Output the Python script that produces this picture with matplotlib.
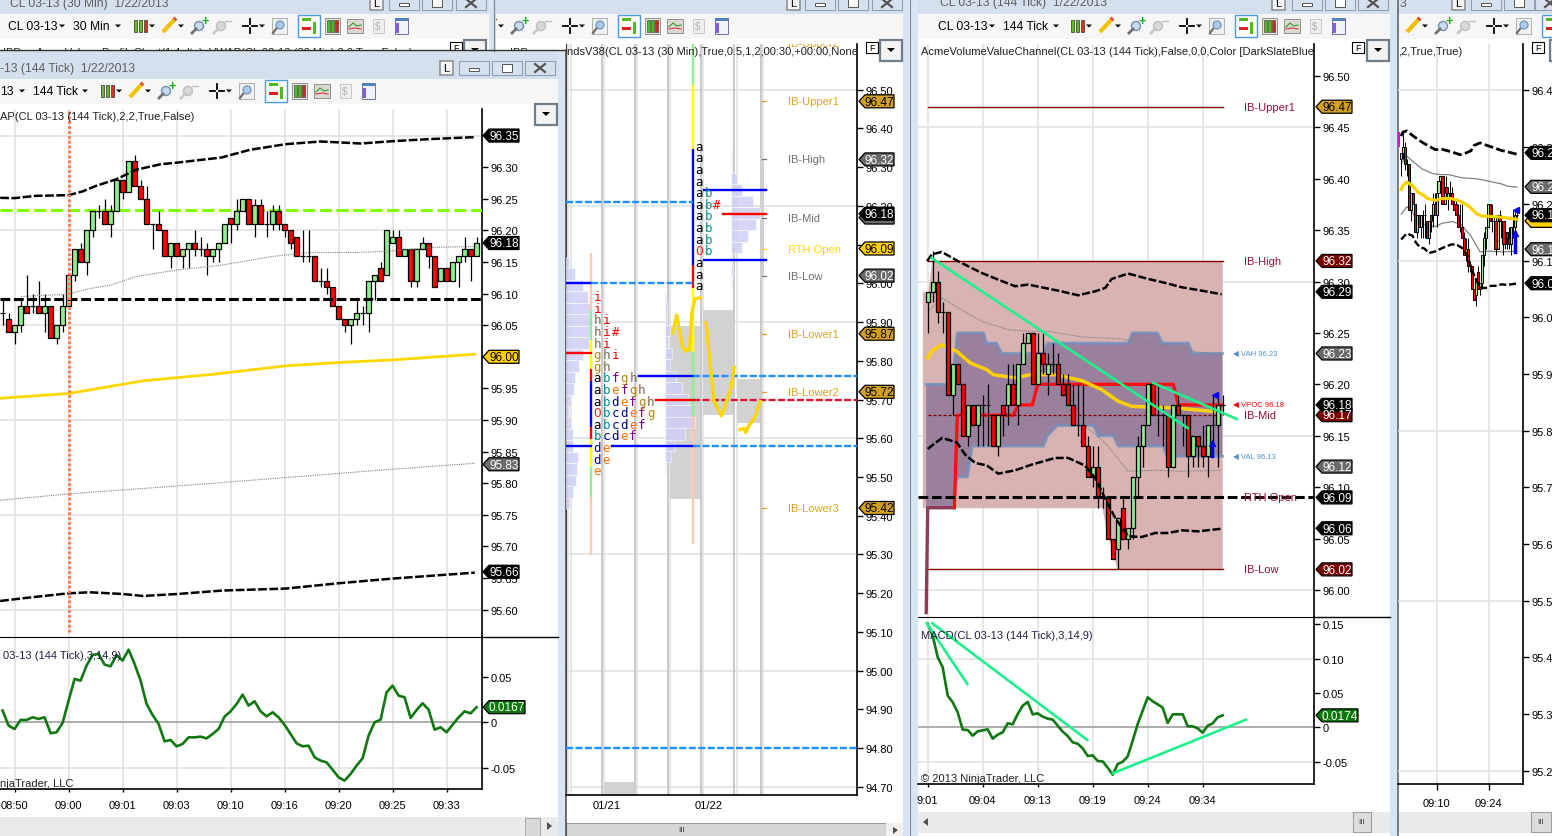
import numpy as np
import matplotlib
matplotlib.use('Agg')
import matplotlib.pyplot as plt
from matplotlib.patches import Polygon, Rectangle, Circle

plt.rcParams['font.family'] = ['Liberation Sans', 'DejaVu Sans']
plt.rcParams['font.size'] = 8

W, H = 1552, 837

# ---- left chart (CL 03-13, 144 tick), bars numbered from the 09:00 bar
a_open = [96.07,96.06,96.04,96.05,96.08,96.08,96.08,96.07,96.08,96.03,96.05,96.08,96.13,96.17,96.15,96.20,96.23,96.23,96.21,96.23,
          96.28,96.26,96.31,96.27,96.25,96.21,96.21,96.20,96.16,96.18,96.16,96.17,96.18,96.17,96.17,96.16,96.17,96.18,96.22,96.21,
          96.23,96.25,96.21,96.24,96.21,96.21,96.23,96.21,96.20,96.19,96.16,96.16,96.16,96.12,96.12,96.11,96.08,96.06,96.05,96.06,
          96.07,96.07,96.12,96.14,96.13,96.18,96.19,96.16,96.17,96.12,96.17,96.18,96.16,96.12,96.14,96.12,96.15,96.16,96.17,96.16]
a_close = [96.07,96.04,96.05,96.08,96.07,96.08,96.07,96.08,96.03,96.05,96.08,96.13,96.17,96.15,96.20,96.23,96.23,96.21,96.23,96.28,
           96.26,96.31,96.27,96.25,96.21,96.21,96.20,96.16,96.18,96.16,96.17,96.18,96.17,96.17,96.16,96.17,96.18,96.21,96.21,96.23,
           96.25,96.21,96.24,96.21,96.21,96.23,96.21,96.20,96.18,96.16,96.16,96.16,96.12,96.12,96.11,96.08,96.06,96.05,96.06,96.07,
           96.07,96.12,96.13,96.12,96.20,96.19,96.16,96.17,96.12,96.17,96.18,96.16,96.11,96.14,96.12,96.15,96.16,96.17,96.16,96.18]
a_high = [96.09,96.07,96.05,96.09,96.13,96.10,96.12,96.10,96.08,96.05,96.10,96.13,96.17,96.18,96.20,96.23,96.24,96.25,96.24,96.28,
          96.28,96.31,96.32,96.28,96.27,96.21,96.23,96.20,96.18,96.18,96.17,96.18,96.20,96.19,96.18,96.17,96.18,96.21,96.22,96.25,
          96.25,96.25,96.25,96.25,96.23,96.24,96.24,96.21,96.20,96.19,96.20,96.20,96.16,96.14,96.14,96.11,96.08,96.06,96.06,96.09,
          96.08,96.12,96.13,96.15,96.20,96.20,96.20,96.17,96.17,96.17,96.19,96.18,96.16,96.14,96.14,96.15,96.16,96.19,96.17,96.19]
a_low = [96.05,96.04,96.02,96.04,96.07,96.07,96.07,96.04,96.03,96.02,96.04,96.08,96.12,96.15,96.13,96.19,96.22,96.21,96.19,96.23,
         96.25,96.26,96.27,96.25,96.21,96.17,96.20,96.16,96.14,96.16,96.14,96.14,96.16,96.16,96.13,96.15,96.15,96.18,96.18,96.20,
         96.23,96.21,96.19,96.21,96.19,96.20,96.20,96.19,96.17,96.16,96.15,96.15,96.12,96.11,96.10,96.08,96.06,96.04,96.02,96.05,
         96.05,96.04,96.09,96.12,96.13,96.18,96.16,96.16,96.11,96.11,96.17,96.14,96.11,96.12,96.12,96.12,96.11,96.15,96.12,96.16]
a_first_bar = -11

a_macd = [.0130,-.0037,-.0074,.0026,.0026,.0055,.0037,.0055,-.0121,-.0110,-.0007,.0239,.0478,.0460,.0626,.0743,.0754,.0637,.0618,.0743,
          .0681,.0802,.0644,.0460,.0202,.0081,-.0018,-.0210,-.0195,-.0265,-.0239,-.0166,-.0166,-.0158,-.0177,-.0129,-.0074,.0063,.0121,.0202,
          .0305,.0184,.0232,.0121,.0066,.0110,.0055,-.0029,-.0129,-.0232,-.0265,-.0258,-.0386,-.0423,-.0442,-.0523,-.0607,-.0644,-.0570,-.0478,
          -.0397,-.0147,0,.0029,.0331,.0405,.0294,.0276,.0048,.0136,.0210,.0140,-.0081,-.0055,-.0110,-.0026,.0055,.0121,.0099,.0167]

a_upper_x = [-11.4,-9,-5.5,0,2.3,4.6,8,11.2,15.4,18.3,25.5,30.2,36.2,42.1,48.7,54,60,67.7]
a_upper_y = [96.2515,96.251,96.2546,96.2557,96.2615,96.2705,96.281,96.2958,96.3047,96.3074,96.3153,96.3274,96.3364,96.3406,96.3374,96.3411,96.3443,96.3475]
a_vwap_x = [-7.9,-3.7,-.1,3.5,7,11.2,18.3,25.5,33.8,40.4,48.1,54,60.6,67.7]
a_vwap_y = [96.0954,96.0975,96.099,96.108,96.1133,96.127,96.1376,96.145,96.1586,96.165,96.165,96.1676,96.173,96.1745]
a_gold_x = [-11.4,0,12.4,24.3,36.2,45,54,67.7]
a_gold_y = [95.9345,95.9419,95.962,95.9725,95.9857,95.991,95.9951,96.0041]
a_thin_x = [-11.4,0,18.3,36.2,54,67.7]
a_thin_y = [95.7731,95.7831,95.7958,95.809,95.8222,95.8316]
a_lower_x = [-11.4,-9,-5.5,0,3.5,8.9,12.4,18.3,25.5,36.2,45,54,67.7]
a_lower_y = [95.6138,95.6165,95.6203,95.6259,95.6275,95.6249,95.6217,95.6249,95.6302,95.6334,95.6418,95.6492,95.6586]
a_time_pos = [-9,0,9,18,27,36,45,54,63]
a_time_lab = ['08:50','09:00','09:01','09:03','09:10','09:16','09:20','09:25','09:33']

# ---- middle chart (market profile on 30 min)
b_dark_x = [-1.08,0,1,2,3,4,4.82]
b_light_x = [-1.02,-.92,.08,1.08,2.07,3.08,4.09,4.9]
b_block_x0 = [2.07,3.08,4.09,.08]
b_block_x1 = [2.98,3.99,4.80,.98]
b_block_hi = [95.89,95.932,95.753,94.712]
b_block_lo = [95.443,95.66,95.64,94.66]

tpo1_lo = 95.417
tpo1_w = [4,6.7,10,10.7,12,6.7,6.7,5.3,2.7,5.3,8,9,13,17.3,22.7,24.7,24.7,24.7,22,16.7,9,3.3]
tpo2_lo = 95.508
tpo2_w = [1,6,10,20,30,27.7,23,17,11,5,7,3.7,5,2.3,2.3,1]
tpo3_lo = 95.989
tpo3_w = [1,2.3,1.7,11,17,25,29.7,22.7,11,6.7,1.7,1.7]

strip1_edges = [96.078,95.929,95.854,95.779,95.749,95.628,95.598,95.525,95.449,95.298]
strip1_cols = ['#FFC8B0','#90EE90','#FFFF00','#FF0000','#0000FF','#FF0000','#FFFF00','#90EE90','#FFC8B0']
strip2_edges = [96.618,96.512,96.347,96.048,95.989,95.823,95.658,95.327]
strip2_cols = ['#90EE90','#FFFF00','#0000FF','#FF0000','#FFFF00','#90EE90','#FFC8B0']

letters1 = ['e','de','de','bcdef','abcdef','Obcdefg','abdefgh','abefgh','abfgh','gh','ghi','hi','hi#','hi','i','i']
letters1_lo = 95.516
letters2 = ['a','a','a','Ob','ab','ab','ab','ab#','ab','a','a','a','a']
letters2_lo = 95.994
letter_cols = {'a':'#000000','b':'#008B8B','c':'#00008B','d':'#00008B','e':'#FF7000','f':'#800080','g':'#B8860B','h':'#7A6A50','i':'#FF0000','O':'#FF2020','#':'#FF0000'}

b_gold1_x = [2.15,2.27,2.45,2.55,2.66,2.73,2.83,2.98]
b_gold1_y = [95.872,95.918,95.835,95.825,95.83,95.925,95.96,95.963]
b_gold2_x = [3.16,3.28,3.40,3.63,3.91,4.01]
b_gold2_y = [95.899,95.796,95.697,95.658,95.727,95.783]
b_gold3_x = [4.19,4.31,4.36,4.47,4.62,4.80]
b_gold3_y = [95.622,95.626,95.615,95.634,95.651,95.695]

b_ib_names = ['IB-Upper2','IB-Upper1','IB-High','IB-Mid','RTH Open','IB-Low','IB-Lower1','IB-Lower2','IB-Lower3']
b_ib_price = [96.62,96.47,96.32,96.17,96.09,96.02,95.87,95.72,95.42]
b_ib_cols = ['#DAA520','#DAA520','#707070','#707070','#FFD700','#707070','#DAA520','#DAA520','#DAA520']

# ---- third chart, also used by the narrow one on the right
c_open = [96.28,96.29,96.30,96.27,96.27,96.19,96.22,96.20,96.15,96.18,96.16,96.18,96.18,96.17,96.14,96.18,96.18,96.20,96.18,96.22,
          96.24,96.25,96.20,96.23,96.21,96.22,96.22,96.20,96.20,96.18,96.16,96.16,96.14,96.11,96.12,96.09,96.09,96.05,96.04,96.08,
          96.05,96.06,96.11,96.14,96.16,96.20,96.17,96.17,96.17,96.12,96.18,96.17,96.17,96.13,96.15,96.14,96.13,96.16,96.16,96.18]
c_close = [96.29,96.30,96.27,96.27,96.19,96.22,96.20,96.15,96.18,96.16,96.18,96.18,96.18,96.14,96.17,96.17,96.20,96.18,96.22,96.24,
           96.25,96.20,96.23,96.22,96.22,96.22,96.20,96.19,96.18,96.16,96.16,96.14,96.11,96.12,96.09,96.09,96.05,96.03,96.07,96.05,
           96.06,96.11,96.14,96.16,96.20,96.17,96.17,96.17,96.12,96.18,96.17,96.17,96.13,96.15,96.14,96.13,96.16,96.16,96.18,96.18]
c_high = [96.29,96.33,96.31,96.28,96.27,96.22,96.22,96.20,96.18,96.18,96.18,96.19,96.20,96.17,96.17,96.18,96.22,96.22,96.22,96.25,
          96.25,96.25,96.25,96.25,96.23,96.24,96.23,96.21,96.21,96.20,96.20,96.20,96.15,96.14,96.14,96.10,96.09,96.05,96.07,96.09,
          96.06,96.11,96.15,96.16,96.20,96.20,96.20,96.18,96.17,96.18,96.19,96.17,96.17,96.15,96.15,96.16,96.16,96.19,96.19,96.19]
c_low = [96.25,96.28,96.26,96.25,96.19,96.17,96.20,96.15,96.14,96.16,96.14,96.14,96.14,96.14,96.13,96.15,96.16,96.18,96.16,96.22,
         96.24,96.20,96.20,96.21,96.19,96.21,96.20,96.19,96.18,96.16,96.15,96.14,96.11,96.10,96.08,96.08,96.05,96.03,96.02,96.05,
         96.04,96.05,96.09,96.12,96.16,96.17,96.15,96.14,96.11,96.12,96.17,96.14,96.11,96.12,96.12,96.12,96.11,96.14,96.12,96.17]
c_macd = [.1504,.1334,.1019,.0873,.0461,.0364,.0218,-.0034,-.0039,-.0121,-.0058,-.0044,-.0029,-.0165,-.0107,-.0073,.0058,.0044,.0194,.0315,
          .0369,.0189,.0204,.0155,.0126,.0112,.0024,-.0063,-.0126,-.0218,-.0238,-.0306,-.0417,-.0407,-.0490,-.0495,-.0587,-.0689,-.0534,-.0500,
          -.0422,-.0194,.0049,.0243,.0437,.0378,.0335,.0286,.0063,.0189,.0189,.0189,.0015,.0015,-.0015,-.0078,.0024,.0058,.0146,.0174]
c_upper_x = [-.13,.8,2.8,6.1,10.8,14.1,17.5,20.1,26.1,30.1,33.5,35.5,36.8,40.1,44.1,47.5,50.8,54.8,58.8]
c_upper_y = [96.3197,96.3262,96.3288,96.3197,96.3083,96.3018,96.2954,96.297,96.2911,96.2866,96.2905,96.2937,96.3025,96.3077,96.3025,96.2986,96.2944,96.2911,96.2876]
c_lower_x = [0,1.5,2.9,5.8,7.5,9.5,11.8,14.1,17.5,20.8,25.5,28.1,31.5,33.5,35.1,37.5,40.1,42.8,45.5,48.1,50.8,54.1,58.8]
c_lower_y = [96.1371,96.143,96.1478,96.1436,96.1316,96.1235,96.1212,96.1131,96.1164,96.1219,96.1284,96.1284,96.1209,96.1089,96.0927,96.07,96.0522,96.0515,96.0554,96.0554,96.058,96.057,96.0596]
c_thin1_x = [0,2.9,6.1,10.8,16.1,20.1,24.1,30.8,38.8,44.1,50.8,54.1,58.8]
c_thin1_y = [96.271,96.284,96.2743,96.2613,96.2532,96.2516,96.2516,96.2461,96.2441,96.2402,96.2354,96.2312,96.2295]
c_thin2_x = [0,2.9,5.8,8.1,12.8,17.5,20.8,26.1,30.8,35.5,40.1,45.5,50.8,58.8]
c_thin2_y = [96.1819,96.1948,96.1851,96.1689,96.1624,96.1601,96.1657,96.1689,96.1624,96.143,96.1154,96.1164,96.1154,96.1164]
c_gold_x = [0,.8,2.8,5.8,8.5,11.8,13.1,17.5,20.5,25.5,30.8,34.8,38.1,40.8,49.5,54.8,58.8]
c_gold_y = [96.2256,96.2321,96.2386,96.2321,96.2208,96.2143,96.2094,96.2062,96.2094,96.2094,96.2036,96.1948,96.1835,96.1786,96.177,96.1747,96.1728]

ib_x = [-1.07,0,.8,34.8,36.1,37.9,58.9]
ib_hi = [96.29,96.29,96.32,96.32,96.32,96.32,96.32]
ib_lo = [96.08,96.08,96.08,96.08,96.05,96.02,96.02]
va_up_x = [-.3,0,4.8,5.93,11.13,11.8,13.8,14.8,23.13,23.93,40.13,40.93,45.93,46.93,52.13,52.93,58.93]
va_up_y = [96.20,96.20,96.20,96.25,96.25,96.24,96.24,96.23,96.23,96.24,96.24,96.25,96.25,96.24,96.24,96.23,96.23]
va_lo_x = [-.3,0,4.8,5.93,7.93,8.93,23.13,23.93,25.93,33.15,34.13,37.13,38.13,47.13,47.8,58.93]
va_lo_y = [95.978,96.08,96.08,96.11,96.11,96.14,96.14,96.15,96.16,96.16,96.15,96.15,96.14,96.14,96.13,96.13]
vpoc_x = [5.33,5.93,17.13,18.13,20.93,22,49.13,50.13,58.93]
vpoc_y = [96.08,96.17,96.17,96.18,96.18,96.20,96.20,96.18,96.18]
c_ib_names = ['IB-Upper1','IB-High','IB-Mid','RTH Open','IB-Low']
c_ib_price = [96.47,96.32,96.17,96.09,96.02]
c_time_pos = [0,11,22,33,44,55]
c_time_lab = ['9:01','09:04','09:13','09:19','09:24','09:34']


def panel(x0, y_top, x1, y_bot, xlim, ylim):
    ax = fig.add_axes([x0/W, 1-y_bot/H, (x1-x0)/W, (y_bot-y_top)/H], zorder=5)
    ax.set_xlim(xlim)
    ax.set_ylim(ylim)
    ax.patch.set_alpha(0)
    ax.yaxis.tick_right()
    for s in ['top', 'left']:
        ax.spines[s].set_visible(False)
    for s in ['right', 'bottom']:
        ax.spines[s].set_linewidth(1.2)
    ax.tick_params(axis='y', length=4.5, width=1, pad=1.5, labelsize=8)
    ax.tick_params(axis='x', length=2, width=1, pad=6, labelsize=8)
    ax.set_axisbelow(True)
    ax.set_xticks([])
    return ax


def price_ticks(ax, ticks, grids, fmt='%.2f'):
    ax.set_yticks(ticks)
    ax.set_yticklabels([fmt % t for t in ticks])
    for g in grids:
        ax.axhline(g, color='#E2E2E2', lw=1.2, zorder=1)


def time_grid(ax, pos):
    for p in pos:
        ax.axvline(p, color='#E2E2E2', lw=1.2, zorder=1)


def candles(ax, x, o, c, h, l, width, lw=.9):
    x, o, c, h, l = map(np.array, (x, o, c, h, l))
    ax.vlines(x, l, h, color='k', lw=lw, zorder=6)
    up = c >= o
    ax.bar(x[up], (c-o)[up], bottom=o[up], width=width, color='#90EE90', edgecolor='k', lw=lw, zorder=7)
    ax.bar(x[~up], (o-c)[~up], bottom=c[~up], width=width, color='#FF0000', edgecolor='k', lw=lw, zorder=7)


def tag(ax, price, label, face, txt, x0, x1):
    y = H - ax.transData.transform((0, price))[1]
    pts = [(x0, y), (x0+6, y-6.5), (x1, y-6.5), (x1, y+6.5), (x0+6, y+6.5)]
    over.add_patch(Polygon(pts, closed=True, fc=face, ec='k', lw=.9, zorder=10))
    if label:
        over.text(x0+6.5+(x1-x0-7)/2, y+.3, label, color=txt, ha='center', va='center', fontsize=8.5, zorder=11, clip_on=True)


def button(x, y, kind):
    if kind == 'L':
        bg.add_patch(Rectangle((x-6, y-7), 13, 14, fc='#F4F4F4', ec='#8A8A8A', lw=1.1))
        bg.text(x, y, 'L', ha='center', va='center', fontsize=8)
    else:
        bg.add_patch(Rectangle((x-15, y-7), 30, 14, fc='#D5E1EE', ec='#8FA0B4', lw=.8))
        if kind == 'min':
            bg.add_patch(Rectangle((x-5, y), 10, 3, fc='w', ec='#555555', lw=.7))
        elif kind == 'max':
            bg.add_patch(Rectangle((x-5, y-4), 10, 8, fc='w', ec='#555555', lw=.7))
        else:
            bg.plot([x-5, x+5], [y-4, y+4], color='#555555', lw=1.6)
            bg.plot([x-5, x+5], [y+4, y-4], color='#555555', lw=1.6)


def arrow_down(x, y):
    bg.add_patch(Polygon([(x-3, y-1.5), (x+3, y-1.5), (x, y+1.5)], fc='k', ec='none'))


def icons(x0, y):
    # toolbar pictures, same spacing in every window
    for dx, col in [(-5, '#66BB22'), (0, '#66BB22'), (5, '#E03020')]:
        bg.add_patch(Rectangle((x0+dx-1.5, y-6), 3, 12, fc=col, ec='#333333', lw=.5))
    arrow_down(x0+12, y)
    xp = x0+29
    bg.plot([xp-6, xp+5], [y+6, y-6], color='#F2C200', lw=3, solid_capstyle='butt')
    bg.plot([xp+5, xp+7], [y-6, y-8], color='#E05030', lw=3, solid_capstyle='butt')
    arrow_down(xp+12, y)
    xz = x0+59
    bg.add_patch(Circle((xz, y), 4.5, fc='#C8DCF0', ec='#7090B0', lw=1))
    bg.plot([xz-3, xz-7], [y+3, y+7], color='#707070', lw=2)
    bg.text(xz+6, y-5, '+', color='#10B010', fontsize=9, fontweight='bold', ha='center', va='center')
    xo = x0+81
    bg.add_patch(Circle((xo, y), 4.5, fc='#D8D8D8', ec='#C0C0C0', lw=1))
    bg.plot([xo-3, xo-7], [y+3, y+7], color='#C8C8C8', lw=2)
    bg.plot([xo+4, xo+10], [y-5, y-5], color='#C0C0C0', lw=1)
    xc = x0+110
    bg.plot([xc-7, xc-2], [y, y], 'k', lw=1.3)
    bg.plot([xc+2, xc+7], [y, y], 'k', lw=1.3)
    bg.plot([xc, xc], [y-7, y-2], 'k', lw=1.3)
    bg.plot([xc, xc], [y+2, y+7], 'k', lw=1.3)
    arrow_down(xc+12, y)
    xm = x0+139
    bg.add_patch(Rectangle((xm-7, y-8), 15, 16, fc='#F0F0F0', ec='#B0B0B0', lw=.7))
    bg.add_patch(Circle((xm+1, y-1), 4, fc='#A8CCEE', ec='#7090B0', lw=.8))
    bg.plot([xm-3, xm-6], [y+3, y+7], color='#707070', lw=1.6)
    xs = x0+169
    bg.add_patch(Rectangle((xs-11, y-11), 22, 22, fc='#FBFBFB', ec='#4A9BE8', lw=1))
    bg.add_patch(Rectangle((xs-7, y-8), 9, 3, fc='#50B820', ec='none'))
    bg.add_patch(Rectangle((xs-7, y+1), 9, 3, fc='#E02020', ec='none'))
    bg.add_patch(Rectangle((xs+4, y-4), 3, 12, fc='#50B820', ec='none'))
    x2 = x0+192
    bg.add_patch(Rectangle((x2-7, y-8), 15, 16, fc='#E8E8E8', ec='#909090', lw=.7))
    for dx, col in [(-4, '#50B820'), (0, '#50B820'), (4, '#E02020')]:
        bg.add_patch(Rectangle((x2+dx-1, y-6), 2.5, 12, fc=col, ec='#333333', lw=.4))
    x3 = x0+215
    bg.add_patch(Rectangle((x3-8, y-7), 16, 14, fc='#DDD8D0', ec='#909090', lw=.7))
    bg.plot([x3-6, x3-2, x3+2, x3+6], [y+1, y-3, y, y-1], color='#30A030', lw=.8)
    bg.plot([x3-6, x3, x3+6], [y+3, y+2, y+3], color='#D04040', lw=.8)
    x4 = x0+238
    bg.add_patch(Rectangle((x4-5, y-7), 11, 14, fc='#EEEEEE', ec='#C8C8C8', lw=.7))
    bg.text(x4, y, '$', color='#B0B0B0', fontsize=7, ha='center', va='center')
    x5 = x0+261
    bg.add_patch(Rectangle((x5-6, y-8), 13, 16, fc='#F0F4FA', ec='#7070A0', lw=.7))
    bg.add_patch(Rectangle((x5-6, y-8), 13, 3, fc='#5080C0', ec='none'))
    bg.add_patch(Rectangle((x5-5, y-3), 3, 10, fc='#8060E0', ec='none'))


def clipped_icons(x0, y, xmin, xmax):
    # toolbar of a window partly hidden behind the next one
    before = set(bg.get_children())
    icons(x0, y)
    box = Rectangle((xmin, 0), xmax-xmin, 52, transform=bg.transData)
    for art in set(bg.get_children()) - before:
        art.set_clip_on(True)
        art.set_clip_path(box)


def window_top(x0, x1, y_title, y_bar, h_title=25):
    bg.add_patch(Rectangle((x0, y_title), x1-x0, h_title, fc='#D4E0EE', ec='none'))
    bg.add_patch(Rectangle((x0, y_bar), x1-x0, 25, fc='#F6F6F6', ec='none'))


fig = plt.figure(figsize=(W/100, H/100), dpi=100, facecolor='#D7E4F2')
bg = fig.add_axes([0, 0, 1, 1], zorder=0)
bg.set_xlim(0, W)
bg.set_ylim(H, 0)
bg.axis('off')
over = fig.add_axes([0, 0, 1, 1], zorder=20)
over.set_xlim(0, W)
over.set_ylim(H, 0)
over.axis('off')
over.patch.set_alpha(0)

# window bodies, kept under everything in the background axes
bg.add_patch(Rectangle((496, 0), 407, 837, fc='w', ec='none', zorder=.2))
bg.add_patch(Rectangle((918, 0), 472, 837, fc='w', ec='none', zorder=.2))
bg.add_patch(Rectangle((1398, 0), 154, 837, fc='w', ec='none', zorder=.2))
bg.add_patch(Rectangle((0, 40), 489, 12, fc='w', ec='none', zorder=.2))

window_top(496, 903, -10, 15)
window_top(1398, 1552, -10, 15)
window_top(0, 489, -10, 15)
window_top(918, 1390, -10, 15)
bg.add_patch(Rectangle((489, 0), 7, 52, fc='#D7E4F2', ec='none'))
bg.plot([493.5, 493.5], [0, 52], color='#8090A0', lw=1)
clipped_icons(460, 27, 496, 903)
clipped_icons(1384, 27, 1398, 1552)
icons(140, 27)
icons(1077, 27)
bg.plot([1397.5, 1397.5], [0, 837], color='#606870', lw=1.2)
bg.plot([910, 910], [0, 837], color='#8090A0', lw=.8)

for x, k in [(376, 'L'), (404, 'min'), (437, 'max'), (471, 'x'),
             (793, 'L'), (820, 'min'), (853, 'max'), (887, 'x'),
             (1278, 'L'), (1307, 'min'), (1340, 'max'), (1373, 'x'),
             (1458, 'L'), (1486, 'min'), (1519, 'max'), (1550, 'x')]:
    button(x, 4, k)

bg.text(10, 4, 'CL 03-13 (30 Min)  1/22/2013', color='#606060', fontsize=8.7, va='center')
bg.text(940, 3, 'CL 03-13 (144 Tick)  1/22/2013', color='#606060', fontsize=8.7, va='center')
bg.text(1400, 4, '3', color='#606060', fontsize=8.7, va='center')
bg.text(8, 27, 'CL 03-13', fontsize=8.7, va='center')
arrow_down(62, 27)
bg.text(73, 27, '30 Min', fontsize=8.7, va='center')
arrow_down(118, 27)
bg.text(938, 27, 'CL 03-13', fontsize=8.7, va='center')
arrow_down(992, 27)
bg.text(1003, 27, '144 Tick', fontsize=8.7, va='center')
arrow_down(1056, 27)
# indicator lines of the back windows, hidden below y=51 by the front window
bg.text(3, 53, 'IBPro, AcmeVolumeProfileChart(1,4,dtn), VWAP(CL 03-13 (30 Min),2,2,True,False)', fontsize=8, va='center', color='#222222', zorder=.5)
bg.text(510, 53, 'IBP', fontsize=8, va='center', color='#222222', zorder=.5)

# window F box and drop-down buttons
for fx, dx_btn in [(872, 891), (1358, 1378), (456, 475), (1538, 1561)]:
    bg.add_patch(Rectangle((fx-6, 43), 12, 11, fc='w', ec='k', lw=.8))
    bg.text(fx, 48.5, 'F', fontsize=6.5, ha='center', va='center')
    bg.add_patch(Rectangle((dx_btn-11, 41), 22, 21, fc='#F3F3F3', ec='#707C88', lw=1.6))
    bg.add_patch(Polygon([(dx_btn-4, 49), (dx_btn+4, 49), (dx_btn, 53)], fc='k', ec='none'))

# front left window
bg.add_patch(Rectangle((0, 51), 565, 786, fc='#D7E4F2', ec='none'))
bg.plot([0, 565], [51, 51], color='#303030', lw=1)
bg.add_patch(Rectangle((0, 52), 558, 28, fc='#D4E0EE', ec='none'))
bg.add_patch(Rectangle((0, 80), 558, 25, fc='#F6F6F6', ec='none'))
bg.add_patch(Rectangle((0, 105), 558, 713, fc='w', ec='none'))
icons(107, 92)
for x, k in [(446, 'L'), (474, 'min'), (507, 'max'), (540, 'x')]:
    button(x, 69, k)
bg.text(0, 69, '-13 (144 Tick)  1/22/2013', color='#606060', fontsize=8.7, va='center')
bg.text(0, 92, '13', fontsize=8.7, va='center')
arrow_down(22, 92)
bg.text(33, 92, '144 Tick', fontsize=8.7, va='center')
arrow_down(85, 92)
bg.add_patch(Rectangle((535, 105), 22, 21, fc='#F3F3F3', ec='#707C88', lw=1.6))
bg.add_patch(Polygon([(542, 113), (550, 113), (546, 117)], fc='k', ec='none'))

# scroll bars
bg.add_patch(Rectangle((0, 818), 558, 19, fc='#EAEAEA', ec='none'))
bg.add_patch(Rectangle((525, 819), 15, 18, fc='#D8D8D8', ec='#A8A8A8', lw=.7))
bg.add_patch(Polygon([(547, 823), (547, 831), (552, 827)], fc='#505050', ec='none'))
bg.plot([565.5, 565.5], [51, 837], color='#404040', lw=1.1)
bg.add_patch(Rectangle((566, 824), 320, 13, fc='#D6D6D6', ec='#9A9A9A', lw=.8))
bg.add_patch(Rectangle((886, 824), 17, 13, fc='#F0F0F0', ec='none'))
bg.add_patch(Polygon([(893, 828), (893, 835), (898, 831)], fc='#505050', ec='none'))
bg.text(682, 831, 'III', fontsize=6, ha='center', va='center', color='#404040')
bg.add_patch(Rectangle((918, 813), 472, 21, fc='#EAEAEA', ec='none'))
bg.add_patch(Polygon([(928, 819), (928, 827), (923, 823)], fc='#505050', ec='none'))
bg.add_patch(Rectangle((1353, 813), 18, 20, fc='#DCDCDC', ec='#A0A0A0', lw=.8))
bg.text(1362, 823, 'III', fontsize=6, ha='center', va='center', color='#404040')
bg.add_patch(Rectangle((1398, 813), 154, 21, fc='#EAEAEA', ec='none'))
bg.add_patch(Rectangle((1531, 813), 20, 20, fc='#DCDCDC', ec='#A0A0A0', lw=.8))
bg.text(1541, 823, 'III', fontsize=6, ha='center', va='center', color='#404040')

# ---------- left chart
a_x = np.arange(len(a_open)) + a_first_bar
ax = panel(0, 110, 482, 638.3, (-11.43, 68.9), (95.5563, 96.392))
ax.spines['bottom'].set_visible(False)
price_ticks(ax, list(np.arange(95.60, 96.301, .05)), [96.35, 96.20, 96.05, 95.90, 95.75, 95.60])
time_grid(ax, a_time_pos)
ax.axhline(96.233, color='#7FFF00', lw=2.2, ls=(0, (4, 1.5)), zorder=3)
ax.axhline(96.092, color='k', lw=2.2, ls=(0, (3.2, 1.2)), zorder=9)
ax.plot(a_upper_x, a_upper_y, 'k', lw=1.8, ls=(0, (3.5, 1)), zorder=8)
ax.plot(a_vwap_x, a_vwap_y, color='#808080', lw=.8, ls=(0, (1, 1)), zorder=8)
ax.plot(a_gold_x, a_gold_y, color='#FFD700', lw=2, zorder=8)
ax.plot(a_thin_x, a_thin_y, color='#808080', lw=.8, ls=(0, (1, 1)), zorder=8)
ax.plot(a_lower_x, a_lower_y, 'k', lw=1.8, ls=(0, (3.5, 1)), zorder=8)
candles(ax, a_x, a_open, a_close, a_high, a_low, .72)
ax.plot([0, 0], [95.565, 96.392], color='#FF7F50', lw=2.2, ls=(0, (.9, .7)), zorder=10)
ax.text(-11.43, 96.381, 'AP(CL 03-13 (144 Tick),2,2,True,False)', fontsize=8, va='center', color='#202020', zorder=11)
tag(ax, 96.35, '96.35', 'k', 'w', 483, 519)
tag(ax, 96.18, '96.18', 'k', 'w', 483, 519)
tag(ax, 96.00, '96.00', '#FFD000', 'k', 483, 519)
tag(ax, 95.83, '95.83', '#6A6A6A', 'w', 483, 519)
tag(ax, 95.66, '95.66', 'k', 'w', 483, 519)

am = panel(0, 638.3, 482, 790, (-11.43, 68.9), (-.0736, .0938))
am.spines['top'].set_visible(True)
am.spines['top'].set_bounds(-11.43, 68.9)
price_ticks(am, [.05, 0, -.05], [-.05])
am.set_yticklabels(['0.05', '0', '-0.05'])
time_grid(am, a_time_pos)
am.set_xticks(a_time_pos)
am.set_xticklabels(a_time_lab)
am.axhline(0, color='#A0A0A0', lw=1.2, zorder=2)
am.plot(a_x, a_macd, color='#107810', lw=1.9, zorder=6)
over.text(3, 656, '03-13 (144 Tick),3,14,9)', fontsize=8, va='center', color='#202040')
over.text(0, 784, 'njaTrader, LLC', fontsize=8, va='center', color='#202020')
tag(am, .0167, '0.0167', '#0A780A', 'w', 483, 525)
bg.plot([482, 558], [638.3, 638.3], color='k', lw=1)

# ---------- profile chart
bx = panel(566, 45, 857.5, 796, (-1.082, 7.75), (94.679, 96.618))
bx.spines['left'].set_visible(True)
bx.spines['left'].set_color('#404040')
price_ticks(bx, list(np.arange(94.70, 96.501, .10)), [96.5, 96.2, 95.9, 95.6, 95.3, 95.0, 94.7])
for x in b_dark_x:
    bx.axvline(x, color='#C0C0C0', lw=1.2, zorder=1)
for x in b_light_x:
    bx.axvline(x, color='#E2E2E2', lw=1.2, zorder=1)
for x0, x1, lo, hi in zip(b_block_x0, b_block_x1, b_block_lo, b_block_hi):
    bx.bar(x0, hi-lo, bottom=lo, width=x1-x0, align='edge', color='#D2D2D2', zorder=2)
row_h, px_per_x = .0296, 33.0
for left, lo, widths in [(-1.082, tpo1_lo, tpo1_w), (1.91, tpo2_lo, tpo2_w), (3.91, tpo3_lo, tpo3_w)]:
    ys = lo + row_h*np.arange(len(widths))
    bx.barh(ys, np.array(widths)/px_per_x, height=row_h, left=left, align='edge', color='#CFCFF5', alpha=.85, edgecolor='w', lw=.4, zorder=3)
for sx, edges, cols in [(-.33, strip1_edges, strip1_cols), (2.76, strip2_edges, strip2_cols)]:
    for k, col in enumerate(cols):
        bx.plot([sx, sx], [edges[k], edges[k+1]], color=col, lw=1.7, solid_capstyle='butt', zorder=5)
bx.bar(4.86, .30, bottom=96.02, width=.12, color='#CFCFCF', zorder=2)

B = '#0000FF'
DODGER = '#1E90FF'
for y, x0, x1 in [(96.24, 3.11, 4.98), (96.06, 3.11, 4.98), (96.0, -1.08, -.33), (95.76, 1.13, 2.76), (95.58, -1.08, -.33), (95.58, .31, 2.76)]:
    bx.plot([x0, x1], [y, y], color=B, lw=1.7, zorder=6)
for y, x0, x1 in [(96.21, -1.08, 2.76), (96.0, -.33, 2.76), (95.76, 2.76, 7.75), (95.58, 2.76, 7.75), (94.80, -1.08, 7.75)]:
    bx.plot([x0, x1], [y, y], color=DODGER, lw=1.7, ls=(0, (3, 1)), zorder=6)
bx.plot([3.66, 4.98], [96.18, 96.18], color='#FF0000', lw=1.7, zorder=6)
bx.plot([-1.08, -.33], [95.82, 95.82], color='#FF0000', lw=1.7, zorder=6)
bx.plot([1.66, 2.76], [95.70, 95.70], color='#FF0000', lw=1.7, zorder=6)
bx.plot([2.76, 7.75], [95.70, 95.70], color='#DC143C', lw=1.7, ls=(0, (3, 1)), zorder=6)

for strings, lo, x0 in [(letters1, letters1_lo, -.13), (letters2, letters2_lo, 2.96)]:
    for r, s in enumerate(strings):
        for k, ch in enumerate(s):
            bx.text(x0+k*.27, lo+r*.03, ch, family='DejaVu Sans Mono', fontsize=9, color=letter_cols[ch], ha='center', va='center', zorder=7)

for xs, ys in [(b_gold1_x, b_gold1_y), (b_gold2_x, b_gold2_y), (b_gold3_x, b_gold3_y)]:
    bx.plot(xs, ys, color='#FFD700', lw=2.4, zorder=8)
for name, price, col in zip(b_ib_names, b_ib_price, b_ib_cols):
    bx.text(5.645, price, name, fontsize=8, color=col, va='center', clip_on=True, zorder=4)
    if name != 'IB-Upper2':
        bx.plot([4.86, 4.98], [price, price], color=col, lw=.9, zorder=4)
bx.text(-1.06, 96.6, 'ndsV38(CL 03-13 (30 Min),True,0.5,1,2,00:30,+00:00,None', fontsize=8, va='center', color='#202020', zorder=9)
over.text(607, 806, '01/21', fontsize=8, ha='center', va='center')
over.text(709, 806, '01/22', fontsize=8, ha='center', va='center')
for p, lab, fc, tc in [(96.47, '96.47', '#D4A020', 'k'), (96.32, '96.32', '#6A6A6A', 'w'), (96.17, '', '#6A6A6A', 'w'), (96.18, '96.18', 'k', 'w'),
                       (96.09, '96.09', '#FFD000', 'k'), (96.02, '96.02', '#6A6A6A', 'w'), (95.87, '95.87', '#D4A020', 'k'),
                       (95.72, '95.72', '#D4A020', 'k'), (95.42, '95.42', '#D4A020', 'k')]:
    tag(bx, p, lab, fc, tc, 859, 894)

# ---------- volume value chart
c_x = np.arange(len(c_open))
cx = panel(918, 45, 1314.3, 618.3, (-1.94, 77.32), (95.9734, 96.531))
cx.spines['bottom'].set_visible(False)
price_ticks(cx, list(np.arange(96.00, 96.501, .05)), [96.45, 96.30, 96.15, 96.00])
time_grid(cx, c_time_pos)
cx.fill_between(ib_x, ib_lo, ib_hi, color='#D9B2B2', lw=0, zorder=2)
cx.fill(va_up_x + va_lo_x[::-1], va_up_y + va_lo_y[::-1], fc='#9B809E', ec='none', zorder=3)
cx.plot(va_up_x, va_up_y, color='#6E8FBE', lw=2.2, alpha=.75, zorder=3)
cx.plot(va_lo_x[1:], va_lo_y[1:], color='#6E8FBE', lw=2.2, alpha=.75, zorder=3)
cx.plot(va_lo_x[:2] + [5.13], va_lo_y[:2] + [96.08], color='#903A5A', lw=2.4, zorder=4)
cx.plot(vpoc_x, vpoc_y, color='#FF1010', lw=2.4, zorder=5)
for p in [96.47, 96.32, 96.02]:
    cx.plot([0, 59], [p, p], color='#800000', lw=1, zorder=5)
cx.plot([0, 59], [96.17, 96.17], color='#800000', lw=.9, ls=(0, (2.5, 1.5)), zorder=5)
cx.axhline(96.09, color='k', lw=2.2, ls=(0, (3.2, 1.2)), zorder=9)
cx.plot(c_upper_x, c_upper_y, 'k', lw=1.8, ls=(0, (3.2, 1)), zorder=8)
cx.plot(c_lower_x, c_lower_y, 'k', lw=1.8, ls=(0, (3.2, 1)), zorder=8)
cx.plot(c_thin1_x, c_thin1_y, color='#808080', lw=.8, ls=(0, (1, 1)), zorder=6)
cx.plot(c_thin2_x, c_thin2_y, color='#808080', lw=.8, ls=(0, (1, 1)), zorder=6)
cx.plot(c_gold_x, c_gold_y, color='#FFD000', lw=2.5, zorder=6)
candles(cx, c_x, c_open, c_close, c_high, c_low, .8)
cx.plot([.8, 52], [96.3229, 96.1575], color='#1EF08C', lw=1.9, zorder=9)
cx.plot([45.13, 61.8], [96.2013, 96.1663], color='#1EF08C', lw=1.9, zorder=9)
cx.plot([56.9, 56.9], [96.13, 96.14], color='#0000EE', lw=2.5, zorder=10)
cx.plot([56.9], [96.143], marker='^', color='#0000EE', ms=5, zorder=10)
cx.plot([57.4], [96.19], marker='<', color='#0000EE', ms=5, zorder=10)
for name, price in zip(c_ib_names, c_ib_price):
    cx.text(63.26, price, name, fontsize=8, color='#901038', va='center', zorder=10)
cx.text(61, 96.23, '\u25c0 VAH 96.23', fontsize=5.5, color='#5090D0', va='center', zorder=10)
cx.text(61, 96.18, '\u25c0 VPOC 96.18', fontsize=5.5, color='#FF0000', va='center', zorder=10)
cx.text(61, 96.13, '\u25c0 VAL 96.13', fontsize=5.5, color='#5090D0', va='center', zorder=10)
cx.text(-1.4, 96.524, 'AcmeVolumeValueChannel(CL 03-13 (144 Tick),False,0,0,Color [DarkSlateBlue', fontsize=8, va='center', color='#202020', clip_on=True, zorder=10)
for p, lab, fc, tc in [(96.47, '96.47', '#D4A020', 'k'), (96.32, '96.32', '#7A0000', 'w'), (96.29, '96.29', 'k', 'w'), (96.23, '96.23', '#6A6A6A', 'w'),
                       (96.17, '96.17', '#7A0000', 'w'), (96.18, '96.18', 'k', 'w'), (96.12, '96.12', '#6A6A6A', 'w'),
                       (96.09, '96.09', 'k', 'w'), (96.06, '96.06', 'k', 'w'), (96.02, '96.02', '#7A0000', 'w')]:
    tag(cx, p, lab, fc, tc, 1316, 1352)

cm = panel(918, 618.3, 1314.3, 785, (-1.94, 77.32), (-.0824, .16))
cm.spines['top'].set_visible(True)
price_ticks(cm, [.15, .10, .05, 0, -.05], [.10, -.05])
cm.set_yticklabels(['0.15', '0.10', '0.05', '0', '-0.05'])
time_grid(cm, c_time_pos)
cm.set_xticks(c_time_pos)
cm.set_xticklabels(c_time_lab)
cm.axhline(0, color='#A0A0A0', lw=1.2, zorder=2)
cm.plot(c_x, c_macd, color='#107810', lw=1.9, zorder=6)
cm.plot([-.2, 7.93], [.1513, .063], color='#1EF08C', lw=1.9, zorder=7)
cm.plot([.93, 31.93], [.1513, -.0184], color='#1EF08C', lw=1.9, zorder=7)
cm.plot([37, 63.67], [-.0669, .0112], color='#1EF08C', lw=1.9, zorder=7)
over.text(921, 636, 'MACD(CL 03-13 (144 Tick),3,14,9)', fontsize=8, va='center', color='#202040')
over.text(921, 779, '\u00a9 2013 NinjaTrader, LLC', fontsize=8, va='center', color='#202020')
tag(cm, .0174, '0.0174', '#0A780A', 'w', 1316, 1358)
bg.plot([1314, 1390], [618.3, 618.3], color='k', lw=1)

# ---------- narrow chart on the right, same bars as the third chart
dx = panel(1397.5, 45, 1523.3, 785, (-1.88, 62.1), (95.1766, 96.482))
price_ticks(dx, list(np.arange(95.20, 96.401, .10)), [96.4, 96.1, 95.8, 95.5, 95.2])
time_grid(dx, [18.1, 44.5])
dx.set_xticks([18.1, 44.5])
dx.set_xticklabels(['09:10', '09:24'])
dx.tick_params(axis='x', length=4)
dx.plot(c_upper_x, c_upper_y, 'k', lw=2, ls=(0, (3.2, 1.2)), zorder=8)
dx.plot(c_lower_x, c_lower_y, 'k', lw=1.7, ls=(0, (3, 1.2)), zorder=8)
dx.plot(c_thin1_x, c_thin1_y, color='#808080', lw=.9, zorder=6)
dx.plot(c_thin2_x, c_thin2_y, color='#808080', lw=.9, zorder=6)
candles(dx, c_x, c_open, c_close, c_high, c_low, 1.1, lw=.7)
dx.plot(c_gold_x, c_gold_y, color='#FFD000', lw=2.3, zorder=9)
dx.bar(-1.2, .027, bottom=96.30, width=1.6, color='#F000E0', zorder=9)
dx.plot([57.8, 57.8], [96.115, 96.14], color='#0000EE', lw=2.5, zorder=10)
dx.plot([57.8], [96.148], marker='^', color='#0000EE', ms=5, zorder=10)
dx.plot([58.4], [96.19], marker='<', color='#0000EE', ms=5, zorder=10)
over.text(1398, 52, ',2,True,True)', fontsize=8, va='center', color='#202020')
for p, lab, fc, tc in [(96.29, '96.29', 'k', 'w'), (96.23, '96.23', '#6A6A6A', 'w'), (96.17, '', '#FFD000', 'k'), (96.18, '96.18', 'k', 'w'),
                       (96.12, '96.12', '#6A6A6A', 'w'), (96.06, '96.06', 'k', 'w')]:
    tag(dx, p, lab, fc, tc, 1525, 1561)

fig.savefig('out.png', dpi=100, facecolor=fig.get_facecolor())
